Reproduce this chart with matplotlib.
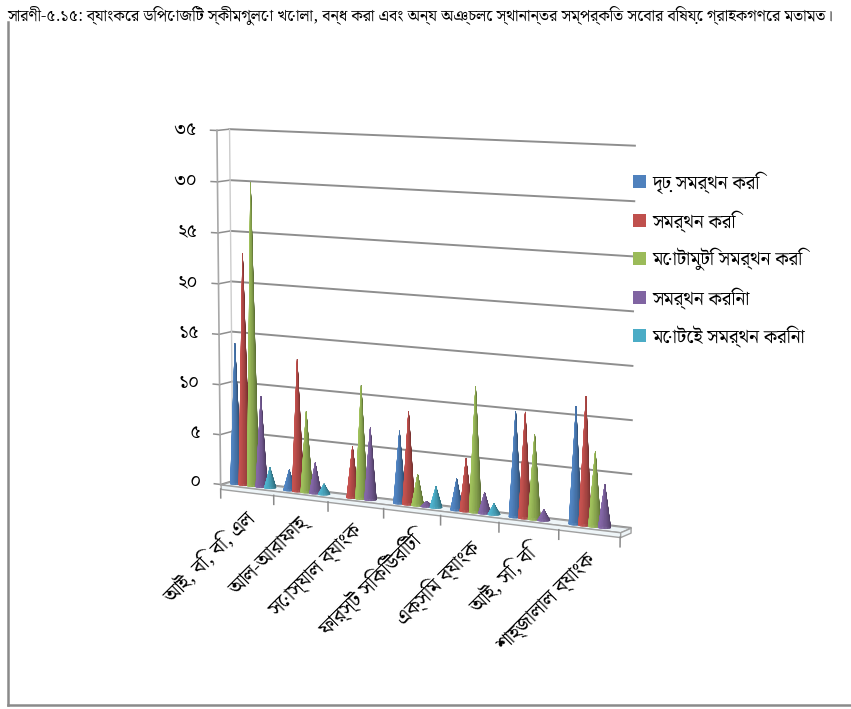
import numpy as np
import matplotlib
matplotlib.use("Agg")
import matplotlib.pyplot as plt
from matplotlib import font_manager, ft2font
from matplotlib.font_manager import FontProperties
from matplotlib.patches import Patch
from matplotlib.lines import Line2D
from matplotlib.colors import to_rgb
from mpl_toolkits.mplot3d import proj3d
from mpl_toolkits.mplot3d.art3d import Poly3DCollection

# ---------------------------------------------------------------- data
title = ("সারণী-৫.১৫: ব্যাংকের ডিপোজিট স্কীমগুলো খোলা, বন্ধ করা এবং অন্য অঞ্চলে "
         "স্থানান্তর সম্পর্কিত সেবার বিষয়ে গ্রাহকগণের মতামত।")
banks = ["আই, বি, বি, এল", "আল-আরাফাহ্", "সোস্যাল ব্যাংক", "ফার্স্ট সিকিউরিটি",
         "এক্সিম ব্যাংক", "আই, সি, বি", "শাহ্জালাল ব্যাংক"]
series_names = ["দৃঢ় সমর্থন করি", "সমর্থন করি", "মোটামুটি সমর্থন করি",
                "সমর্থন করিনা", "মোটেই সমর্থন করিনা"]
strongly_agree = [14, 2, 0, 7, 3, 10, 11]
agree = [23, 13, 5, 9, 5, 10, 12]
somewhat_agree = [30, 8, 11, 3, 12, 8, 7]
disagree = [9, 3, 7, 0.5, 2, 1, 4]
strongly_disagree = [2, 1, 0, 2, 1, 0, 0]
series_colors = ["#4F81BD", "#C0504D", "#9BBB59", "#8064A2", "#4BACC6"]
value_ticks = [0, 5, 10, 15, 20, 25, 30, 35]
value_tick_labels = ["০", "৫", "১০", "১৫", "২০", "২৫", "৩০", "৩৫"]

series_values = [strongly_agree, agree, somewhat_agree, disagree, strongly_disagree]


# ---------------------------------------------------------------- fonts
def bengali_family():
    found = []
    for entry in font_manager.fontManager.ttflist:
        try:
            if 0x0995 in ft2font.FT2Font(entry.fname).get_charmap():
                found.append(entry.name)
        except Exception:
            continue
    preferred = ["Noto Serif Bengali", "Noto Sans Bengali", "Lohit Bengali",
                 "Mukti", "Mukti Narrow", "FreeSerif", "FreeSans"]
    for name in preferred:
        if name in found:
            return name
    for name in found:
        if "mono" not in name.lower():
            return name
    return found[0] if found else None


bengali = bengali_family()
families = ([bengali] if bengali else []) + ["Noto Sans", "DejaVu Sans"]
plt.rcParams["font.family"] = families

# ---------------------------------------------------------------- figure
W, H = 851, 709
fig = plt.figure(figsize=(W / 100, H / 100), dpi=100)
fig.patch.set_facecolor("white")
renderer = fig.canvas.get_renderer()


def fitted_size(text, target_px, base=12.0):
    fp = FontProperties(family=families, size=base)
    w, _, _ = renderer.get_text_width_height_descent(text, fp, ismath=False)
    return base * target_px / w


ax = fig.add_axes([0.1675, 0.164, 0.63, 0.74], projection="3d", computed_zorder=False)
depth = 0.35
n_groups = len(banks)
ax.set_xlim(0, n_groups)
ax.set_ylim(0, depth)
ax.set_zlim(0, 35)
ax.set_proj_type("persp", focal_length=0.95)
ax.view_init(elev=8, azim=-60)
ax.set_box_aspect((n_groups, depth, 5.6), zoom=1.10)
ax.set_axis_off()

grid_c = "#8e8e8e"
# back wall and side wall gridlines
for z in value_ticks:
    ax.plot([0, n_groups], [depth, depth], [z, z], color=grid_c, lw=1.4, zorder=1)
    ax.plot([0, 0], [0, depth], [z, z], color=grid_c, lw=1.1, zorder=1)
    ax.plot([-0.12, 0], [0, 0], [z, z], color=grid_c, lw=1.1, zorder=1)
ax.plot([0, 0], [0, 0], [0, 35], color="#a8a8a8", lw=1.2, zorder=1)
ax.plot([0, 0], [depth, depth], [0, 35], color="#cccccc", lw=1.0, zorder=1)

# floor slab
slab = -0.45
floor_top = [[(0, 0, 0), (n_groups, 0, 0), (n_groups, depth, 0), (0, depth, 0)]]
floor_front = [[(0, 0, slab), (n_groups, 0, slab), (n_groups, 0, 0), (0, 0, 0)]]
floor_side = [[(n_groups, 0, slab), (n_groups, depth, slab), (n_groups, depth, 0),
               (n_groups, 0, 0)]]
for poly in (floor_top, floor_front, floor_side):
    ax.add_collection3d(Poly3DCollection(poly, facecolor="#eef5f8",
                                         edgecolor="#a0a0a0", lw=1.0, zorder=2))
for i in range(n_groups + 1):
    ax.plot([i, i], [0, 0], [slab, slab - 0.9], color="#8a8a8a", lw=1.1, zorder=2)

# cones: triangular facets around the axis, shaded by a fixed light direction
light_dir = np.array([-0.55, -0.75, 0.35])
light_dir /= np.linalg.norm(light_dir)
n_seg = 48
angles = np.linspace(0, 2 * np.pi, n_seg + 1)
radius = 0.092
step = 0.16
z_per_x = 35 / 5.6  # data-z units per physical unit of box height
order = 10
for g in range(n_groups):
    for k, (vals, col) in enumerate(zip(series_values, series_colors)):
        h = vals[g]
        order += 1
        if h <= 0:
            continue
        cx = g + 0.5 + (k - 2) * step
        cy = depth / 2
        base_rgb = np.array(to_rgb(col))
        tris, cols = [], []
        h_phys = h / z_per_x
        for a0, a1 in zip(angles[:-1], angles[1:]):
            p0 = (cx + radius * np.cos(a0), cy + radius * np.sin(a0), 0)
            p1 = (cx + radius * np.cos(a1), cy + radius * np.sin(a1), 0)
            tris.append([p0, p1, (cx, cy, h)])
            am = 0.5 * (a0 + a1)
            normal = np.array([h_phys * np.cos(am), h_phys * np.sin(am), radius])
            normal /= np.linalg.norm(normal)
            lum = 0.8 + 0.25 * float(normal @ light_dir)
            cols.append(np.clip(base_rgb * lum, 0, 1))
        ax.add_collection3d(Poly3DCollection(tris, facecolors=cols, edgecolors=cols,
                                             linewidths=0.3, zorder=order))

# texts placed through the 3D projection
M = ax.get_proj()


def to2d(x, y, z):
    px, py, _ = proj3d.proj_transform(x, y, z, M)
    return px, py


for z, lab in zip(value_ticks, value_tick_labels):
    px, py = to2d(-0.38, 0, z)
    ax.text2D(px, py, lab, transform=ax.transData, ha="right", va="center",
              fontsize=13.5, color="black")

label_lengths = [123, 108, 118, 123, 92, 94, 130]
label_size = float(np.median([fitted_size(b, L) for b, L in zip(banks, label_lengths)]))
for g, name in enumerate(banks):
    px, py = to2d(g + 0.45, 0, slab - 1.6)
    ax.text2D(px, py, name, transform=ax.transData, ha="right", va="top",
              rotation=45, rotation_mode="anchor", fontsize=label_size, color="black")

# legend
legend_size = fitted_size(series_names[-1], 153)
handles = [Patch(facecolor=c, edgecolor="none") for c in series_colors]
fig.legend(handles, series_names, loc="upper left",
           bbox_to_anchor=(633 / W, 1 - 171 / H), frameon=False, fontsize=legend_size,
           handlelength=0.7, handleheight=0.7, handletextpad=0.35,
           labelspacing=0.85, borderaxespad=0, borderpad=0)

# title and frame
fig.text(7 / W, 1 - 15 / H, title, ha="left", va="center",
         fontsize=fitted_size(title, 826))
fig.add_artist(Line2D([8 / W, 8 / W], [1 - 22 / H, 1 - 705 / H],
                      transform=fig.transFigure, color="#8a8a8a", lw=1.8))
fig.add_artist(Line2D([8 / W, 1], [1 - 705 / H, 1 - 705 / H],
                      transform=fig.transFigure, color="#8a8a8a", lw=1.8))

fig.savefig("out.png", dpi=100)
